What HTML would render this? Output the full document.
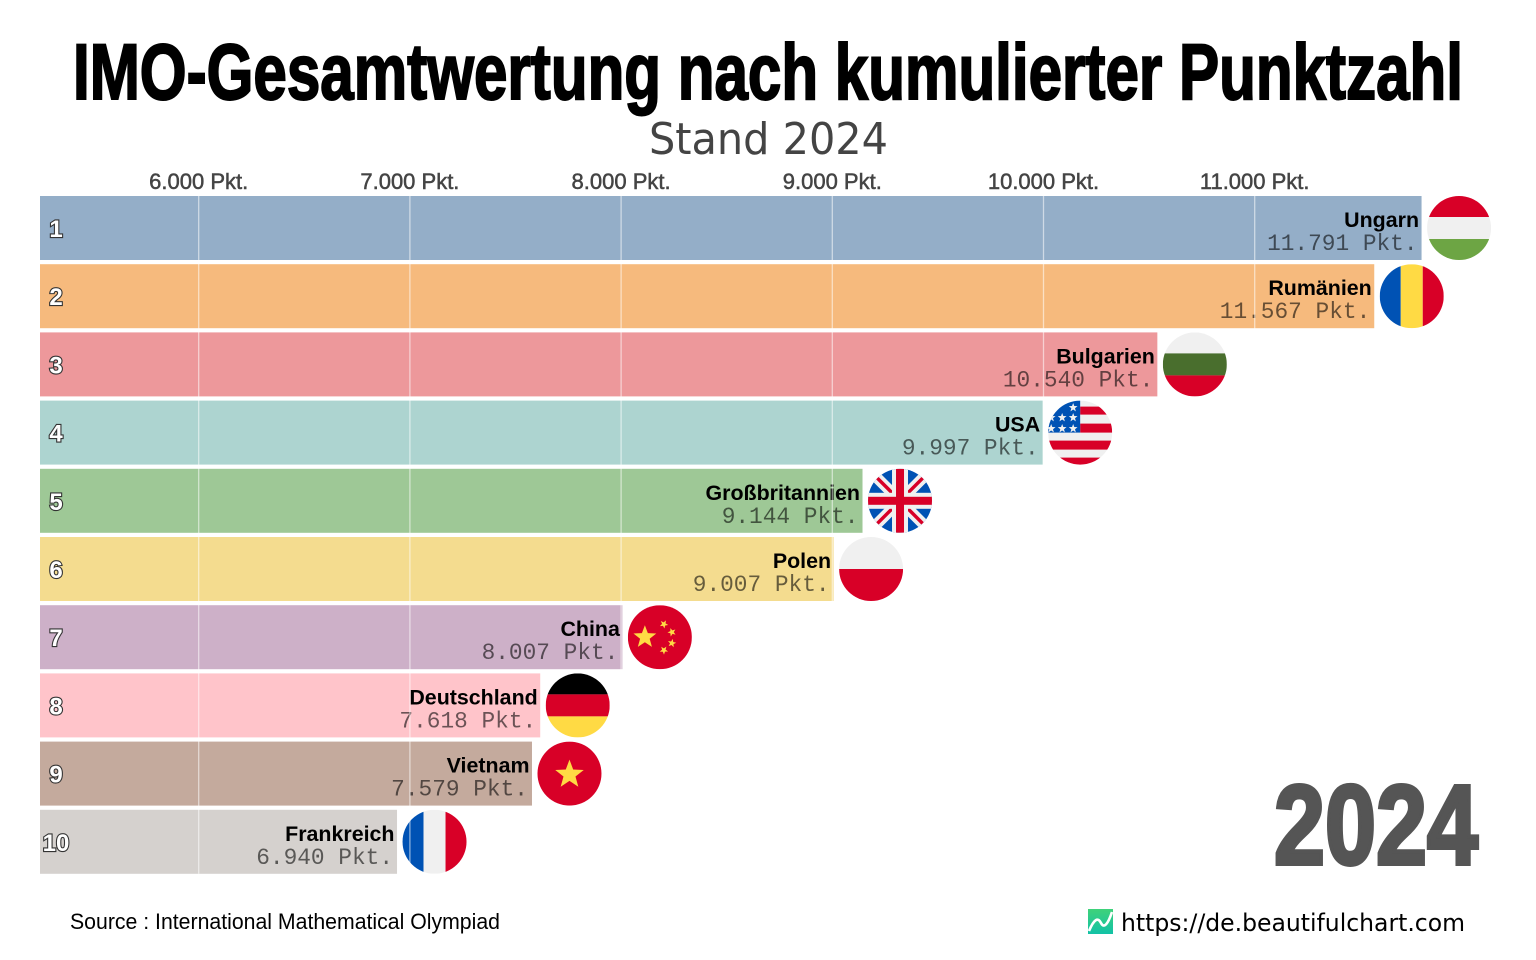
<!DOCTYPE html>
<html lang="de">
<head>
<meta charset="utf-8">
<title>IMO-Gesamtwertung nach kumulierter Punktzahl</title>
<style>
html,body{margin:0;padding:0;background:#fff;width:1536px;height:960px;overflow:hidden}
svg{display:block}
text{font-family:"Liberation Sans",sans-serif}
</style>
</head>
<body>
<svg id="chart" xmlns="http://www.w3.org/2000/svg" width="1536" height="960" viewBox="0 0 1536 960">
  <defs>
    <linearGradient id="logo-grad" x1="0" y1="0" x2="0" y2="1">
      <stop offset="0" stop-color="#3fd27a"/>
      <stop offset="1" stop-color="#12c2a6"/>
    </linearGradient>
  </defs>
  <text x="73" y="99" font-size="79" font-weight="700" fill="#000" stroke="#000" stroke-width="2" textLength="1390" lengthAdjust="spacingAndGlyphs">IMO-Gesamtwertung nach kumulierter Punktzahl</text>
  <text x="649" y="154" font-size="44" fill="#444" textLength="239" lengthAdjust="spacingAndGlyphs" style="font-family:'DejaVu Sans',sans-serif">Stand 2024</text>
  <g id="ticks"></g>
  <g id="bars"></g>
  <g id="flags"></g>
  <g id="labels"></g>
  <g id="grid"></g>
  <text x="1274" y="864" font-size="113" font-weight="700" fill="#555" stroke="#555" stroke-width="4" textLength="204" lengthAdjust="spacingAndGlyphs">2024</text>
  <text x="70" y="929" font-size="22" fill="#000" textLength="430" lengthAdjust="spacingAndGlyphs">Source : International Mathematical Olympiad</text>
  <g>
    <rect x="1088" y="909" width="25" height="25" fill="url(#logo-grad)"/>
    <path d="M1089 931 C1094 919 1098 917 1101 923 C1104 929 1108 924 1112 912" fill="none" stroke="#fff" stroke-width="2.6"/>
  </g>
  <text x="1121" y="931" font-size="24" fill="#000" textLength="344" lengthAdjust="spacingAndGlyphs" style="font-family:'DejaVu Sans',sans-serif">https://de.beautifulchart.com</text>
</svg>
<script>
const categories = ["Ungarn","Rumänien","Bulgarien","USA","Großbritannien","Polen","China","Deutschland","Vietnam","Frankreich"];
const seriesValues = [11791,11567,10540,9997,9144,9007,8007,7618,7579,6940];
const tickValues = [6000,7000,8000,9000,10000,11000];
const tickLabels = ["6.000 Pkt.","7.000 Pkt.","8.000 Pkt.","9.000 Pkt.","10.000 Pkt.","11.000 Pkt."];
const barColors = ["#94aec8","#f6ba7d","#ed989b","#add4d0","#9ec896","#f4dc8f","#cdb0c8","#ffc4ca","#c4aa9d","#d5d1ce"];
const flagKeys = ["hu","ro","bg","us","gb","pl","cn","de","vn","fr"];

const NS = "http://www.w3.org/2000/svg";
const BAR_LEFT = 40, FIRST_TOP = 196, ROW_STEP = 68.2, BAR_H = 64, FLAG_R = 32;
function xScale(v){ return 198.7 + (v - 6000) * 0.2112; }
function yScale(i){ return FIRST_TOP + i * ROW_STEP; }
function fmt(v){ return String(Math.round(v)).replace(/\B(?=(\d{3})+$)/g, ".") + " Pkt."; }

function make(tag, attrs, parent, txt){
  const el = document.createElementNS(NS, tag);
  for (const k in attrs) el.setAttribute(k, attrs[k]);
  if (txt !== undefined) el.textContent = txt;
  parent.appendChild(el);
  return el;
}
function starPoints(cx, cy, r, rot){
  const pts = [];
  for (let i = 0; i < 10; i++){
    const a = -Math.PI/2 + (rot||0) + i*Math.PI/5;
    const rr = i % 2 ? r*0.42 : r;
    pts.push((cx + rr*Math.cos(a)).toFixed(2) + "," + (cy + rr*Math.sin(a)).toFixed(2));
  }
  return pts.join(" ");
}
function rect(p, x, y, w, h, f){ make("rect", {x:x, y:y, width:w, height:h, fill:f}, p); }
function hStripes(p, a, b, c){
  rect(p,-32,-32,64,21,a); rect(p,-32,-11,64,22,b); rect(p,-32,11,64,21,c);
}
function vStripes(p, a, b, c){
  rect(p,-32,-32,21,64,a); rect(p,-11,-32,22,64,b); rect(p,11,-32,21,64,c);
}
const RED="#d80027", WHITE="#f0f0f0", BLUE="#0052b4", YEL="#ffda44", GREEN="#6da544";
const flagPainters = {
  hu(p){ hStripes(p,RED,WHITE,GREEN); },
  ro(p){ vStripes(p,BLUE,YEL,RED); },
  bg(p){ hStripes(p,WHITE,"#496e2d",RED); },
  de(p){ hStripes(p,"#000",RED,YEL); },
  fr(p){ vStripes(p,BLUE,WHITE,RED); },
  pl(p){ rect(p,-32,-32,64,32,WHITE); rect(p,-32,0,64,32,RED); },
  vn(p){ rect(p,-32,-32,64,64,RED); make("polygon",{points:starPoints(0,1,15),fill:YEL},p); },
  cn(p){
    rect(p,-32,-32,64,64,RED);
    make("polygon",{points:starPoints(-15,0,12),fill:YEL},p);
    make("polygon",{points:starPoints(4,-13,4.4,.5),fill:YEL},p);
    make("polygon",{points:starPoints(12,-5,4.4,.9),fill:YEL},p);
    make("polygon",{points:starPoints(12,6,4.4,.2),fill:YEL},p);
    make("polygon",{points:starPoints(4,13,4.4,.6),fill:YEL},p);
  },
  us(p){
    rect(p,-32,-32,64,64,WHITE);
    rect(p,0,-26,32,8,RED); rect(p,0,-9,32,9,RED);
    rect(p,-32,8,64,9,RED); rect(p,-32,25,64,8,RED);
    rect(p,-32,-32,32,32,BLUE);
    const sx=[-7,-18,-7,-18,-7,-29,-29], sy=[-25,-15,-15,-4,-4,-15,-4];
    sx.forEach((x,i)=>make("polygon",{points:starPoints(x,sy[i],4.6),fill:WHITE},p));
  },
  gb(p){
    rect(p,-32,-32,64,64,BLUE);
    make("path",{d:"M-32 -32L32 32M32 -32L-32 32",stroke:WHITE,"stroke-width":11,fill:"none"},p);
    make("path",{d:"M-24 -24L-6 -6M6 6L24 24M24 -24L6 -6M-6 6L-24 24",stroke:RED,"stroke-width":3.5,fill:"none"},p);
    rect(p,-8,-32,16,64,WHITE); rect(p,-32,-8,64,16,WHITE);
    rect(p,-4,-32,8,64,RED); rect(p,-32,-4,64,8,RED);
  }
};

const svg = document.getElementById("chart");
const defs = svg.querySelector("defs");
const gTicks = document.getElementById("ticks");
const gBars = document.getElementById("bars");
const gFlags = document.getElementById("flags");
const gLabels = document.getElementById("labels");
const gGrid = document.getElementById("grid");

tickValues.forEach((v,i)=>{
  const t = make("text",{x:xScale(v),y:189,"text-anchor":"middle","font-size":22,fill:"#444",stroke:"#444","stroke-width":0.5},gTicks,tickLabels[i]);
  
  
  const l = make("line",{x1:xScale(v),x2:xScale(v),y1:FIRST_TOP,y2:yScale(categories.length-1)+BAR_H,stroke:"#fff","stroke-opacity":0.55,"stroke-width":1.3},gGrid);
  
  
});

categories.forEach((name,i)=>{
  const v = seriesValues[i], top = yScale(i), end = xScale(v) - 0.2;
  const bar = make("rect",{x:BAR_LEFT,y:top,width:end-BAR_LEFT,height:BAR_H,fill:barColors[i]},gBars);
  
  

  const clip = make("clipPath",{id:"flag-clip-"+i},defs);
  make("circle",{cx:0,cy:0,r:FLAG_R},clip);
  const f = make("g",{transform:"translate("+(end+37.5)+","+(top+BAR_H/2)+")","clip-path":"url(#flag-clip-"+i+")"},gFlags);
  
  
  flagPainters[flagKeys[i]](f);

  const rank = make("text",{x:56,y:top+41,"text-anchor":"middle","font-size":24,"font-weight":700,fill:"#fff",stroke:"#333","stroke-width":2.2,"paint-order":"stroke"},gLabels,String(i+1));
  
  

  const n = make("text",{x:end-2.5,y:top+31,"text-anchor":"end","font-size":21.4,"font-weight":700,fill:"#000"},gLabels,name);
  
  

  const val = make("text",{x:end-4,y:top+54,"text-anchor":"end","font-size":22.8,fill:"#000","fill-opacity":0.58},gLabels,fmt(v));
  
  
  val.style.fontFamily = '"Liberation Mono",monospace';
});
</script>
</body>
</html>
